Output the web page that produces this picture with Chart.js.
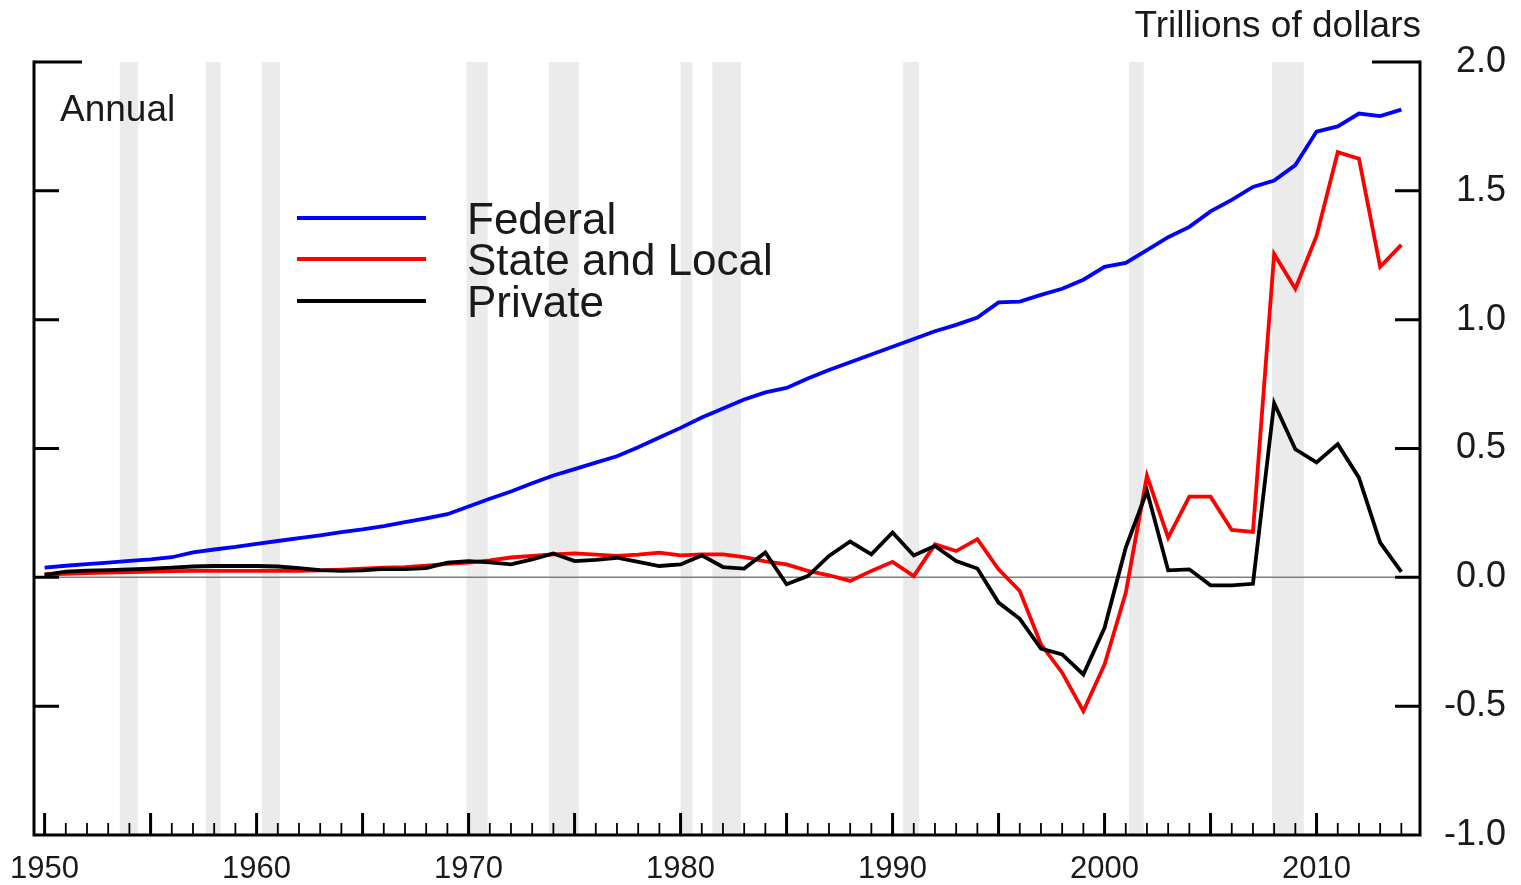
<!DOCTYPE html>
<html>
<head>
<meta charset="utf-8">
<title>Debt by sector</title>
<script src="https://cdn.jsdelivr.net/npm/chart.js@4.4.1/dist/chart.umd.min.js"></script>
<style>
  html, body { margin: 0; padding: 0; background: #fff; }
  canvas { display: block; }
</style>
</head>
<body>
<canvas id="debtChart" width="1521" height="885"></canvas>
<script>
const years = [
  1950, 1951, 1952, 1953, 1954, 1955, 1956, 1957, 1958, 1959,
  1960, 1961, 1962, 1963, 1964, 1965, 1966, 1967, 1968, 1969,
  1970, 1971, 1972, 1973, 1974, 1975, 1976, 1977, 1978, 1979,
  1980, 1981, 1982, 1983, 1984, 1985, 1986, 1987, 1988, 1989,
  1990, 1991, 1992, 1993, 1994, 1995, 1996, 1997, 1998, 1999,
  2000, 2001, 2002, 2003, 2004, 2005, 2006, 2007, 2008, 2009,
  2010, 2011, 2012, 2013, 2014
];

const federal = [
  0.038, 0.045, 0.051, 0.057, 0.064, 0.070, 0.078, 0.097, 0.108, 0.118,
  0.130, 0.141, 0.152, 0.163, 0.175, 0.186, 0.199, 0.214, 0.229, 0.245,
  0.275, 0.305, 0.333, 0.365, 0.395, 0.420, 0.445, 0.470, 0.505, 0.543,
  0.580, 0.620, 0.655, 0.690, 0.718, 0.735, 0.772, 0.805, 0.835, 0.865,
  0.895, 0.925, 0.955, 0.980, 1.008, 1.067, 1.070, 1.096, 1.120, 1.155,
  1.205, 1.220, 1.270, 1.320, 1.360, 1.420, 1.465, 1.515, 1.540, 1.600,
  1.730, 1.750, 1.800, 1.790, 1.815
];

const stateLocal = [
  0.012, 0.014, 0.016, 0.018, 0.020, 0.022, 0.024, 0.025, 0.025, 0.025,
  0.025, 0.025, 0.025, 0.027, 0.030, 0.034, 0.038, 0.040, 0.045, 0.052,
  0.057, 0.066, 0.077, 0.083, 0.089, 0.093, 0.088, 0.083, 0.088, 0.096,
  0.085, 0.089, 0.089, 0.078, 0.062, 0.050, 0.025, 0.008, -0.014, 0.025,
  0.060, 0.005, 0.128, 0.102, 0.148, 0.031, -0.053, -0.260, -0.370, -0.519,
  -0.338, -0.060, 0.394, 0.154, 0.313, 0.313, 0.184, 0.176, 1.255, 1.120,
  1.325, 1.650, 1.625, 1.205, 1.290
];

const privateSector = [
  0.010, 0.022, 0.026, 0.028, 0.031, 0.034, 0.038, 0.042, 0.044, 0.044,
  0.044, 0.042, 0.036, 0.028, 0.025, 0.027, 0.033, 0.032, 0.036, 0.057,
  0.063, 0.058, 0.050, 0.070, 0.093, 0.063, 0.068, 0.076, 0.060, 0.044,
  0.050, 0.085, 0.040, 0.034, 0.096, -0.027, 0.005, 0.083, 0.139, 0.089,
  0.174, 0.085, 0.122, 0.063, 0.034, -0.098, -0.161, -0.277, -0.299, -0.377,
  -0.196, 0.115, 0.335, 0.027, 0.031, -0.031, -0.031, -0.025, 0.676, 0.497,
  0.446, 0.517, 0.387, 0.135, 0.021
];

// NBER recessions, fractional years
const recessions = [
  [1953.55, 1954.4], [1957.6, 1958.3], [1960.25, 1961.1], [1969.9, 1970.9],
  [1973.8, 1975.2], [1980.0, 1980.55], [1981.5, 1982.85], [1990.5, 1991.25],
  [2001.15, 2001.85], [2007.9, 2009.4]
];

const xLabelYears = [1950, 1960, 1970, 1980, 1990, 2000, 2010];
const yTickValues = [-1.0, -0.5, 0.0, 0.5, 1.0, 1.5, 2.0];

const FONT = '"Liberation Sans", Arial, Helvetica, sans-serif';
const TEXT = '#1a1a1a';

Chart.defaults.font.family = FONT;
Chart.defaults.color = TEXT;

function toPoints(values) {
  return values.map((v, i) => ({ x: years[i], y: v }));
}

const decorPlugin = {
  id: 'decor',
  beforeDatasetsDraw(chart) {
    const { ctx, chartArea: a, scales: { x, y } } = chart;
    ctx.save();
    ctx.fillStyle = '#ebebeb';
    recessions.forEach(([s, e]) => {
      const x0 = x.getPixelForValue(s);
      const x1 = x.getPixelForValue(e);
      ctx.fillRect(x0, a.top, x1 - x0, a.bottom - a.top);
    });
    const y0 = y.getPixelForValue(0);
    ctx.strokeStyle = '#7f7f7f';
    ctx.lineWidth = 1.5;
    ctx.beginPath();
    ctx.moveTo(a.left, y0);
    ctx.lineTo(a.right, y0);
    ctx.stroke();
    ctx.restore();
  },
  afterDatasetsDraw(chart) {
    const { ctx, chartArea: a, scales: { x, y } } = chart;
    ctx.save();
    ctx.strokeStyle = '#000';
    ctx.lineCap = 'butt';

    // frame: left, bottom, right
    ctx.lineWidth = 3;
    ctx.beginPath();
    ctx.moveTo(a.left, a.top - 1.5);
    ctx.lineTo(a.left, a.bottom);
    ctx.lineTo(a.right, a.bottom);
    ctx.lineTo(a.right, a.top - 1.5);
    ctx.stroke();

    // y ticks, inward on both sides
    yTickValues.forEach(v => {
      if (v === -1.0) return;
      const py = y.getPixelForValue(v);
      const len = v === 2.0 ? 48 : 25;
      ctx.beginPath();
      ctx.moveTo(a.left, py);
      ctx.lineTo(a.left + len, py);
      ctx.moveTo(a.right, py);
      ctx.lineTo(a.right - len, py);
      ctx.stroke();
    });

    // x ticks, inward from bottom
    years.forEach(yr => {
      const px = x.getPixelForValue(yr);
      const major = yr % 5 === 0;
      ctx.lineWidth = major ? 3 : 1.8;
      ctx.beginPath();
      ctx.moveTo(px, a.bottom);
      ctx.lineTo(px, a.bottom - (major ? 22 : 12));
      ctx.stroke();
    });

    // legend
    const legendY = [218, 259, 301];
    ctx.font = '44px ' + FONT;
    ctx.textAlign = 'left';
    ctx.textBaseline = 'alphabetic';
    chart.data.datasets.forEach((ds, i) => {
      const ly = legendY[i];
      ctx.strokeStyle = ds.borderColor;
      ctx.lineWidth = 4;
      ctx.beginPath();
      ctx.moveTo(297, ly);
      ctx.lineTo(426, ly);
      ctx.stroke();
      ctx.fillStyle = TEXT;
      ctx.fillText(ds.label, 467, ly + 15.5);
    });

    // annotations
    ctx.font = '37px ' + FONT;
    ctx.fillStyle = TEXT;
    ctx.fillText('Annual', 60, 121);
    ctx.textAlign = 'right';
    ctx.fillText('Trillions of dollars', 1421, 37);
    ctx.restore();
  }
};

new Chart(document.getElementById('debtChart'), {
  type: 'line',
  data: {
    datasets: [
      { label: 'Federal', data: toPoints(federal), borderColor: '#0000ff', order: 2 },
      { label: 'State and Local', data: toPoints(stateLocal), borderColor: '#ff0000', order: 1 },
      { label: 'Private', data: toPoints(privateSector), borderColor: '#000000', order: 0 }
    ]
  },
  options: {
    responsive: false,
    animation: false,
    events: [],
    layout: { padding: { top: 62, left: 34, right: 15, bottom: 0 } },
    elements: {
      line: { borderWidth: 3.8, tension: 0, fill: false },
      point: { radius: 0 }
    },
    plugins: { legend: { display: false }, tooltip: { enabled: false } },
    scales: {
      x: {
        type: 'linear',
        min: 1949.5,
        max: 2014.88,
        grid: { display: false, drawTicks: false },
        border: { display: false },
        afterBuildTicks: s => { s.ticks = xLabelYears.map(v => ({ value: v })); },
        afterFit: s => { s.height = 50; s.paddingLeft = 0; s.paddingRight = 0; },
        ticks: {
          autoSkip: false,
          maxRotation: 0,
          padding: 16,
          font: { size: 31 },
          color: TEXT,
          callback: v => String(v)
        }
      },
      y: {
        position: 'right',
        min: -1,
        max: 2,
        grid: { display: false, drawTicks: false },
        border: { display: false },
        afterBuildTicks: s => { s.ticks = yTickValues.map(v => ({ value: v })); },
        afterFit: s => { s.width = 86; s.paddingTop = 0; s.paddingBottom = 0; },
        ticks: {
          crossAlign: 'far',
          padding: 24,
          font: { size: 36 },
          color: TEXT,
          callback: v => v.toFixed(1)
        }
      }
    }
  },
  plugins: [decorPlugin]
});
</script>
</body>
</html>
